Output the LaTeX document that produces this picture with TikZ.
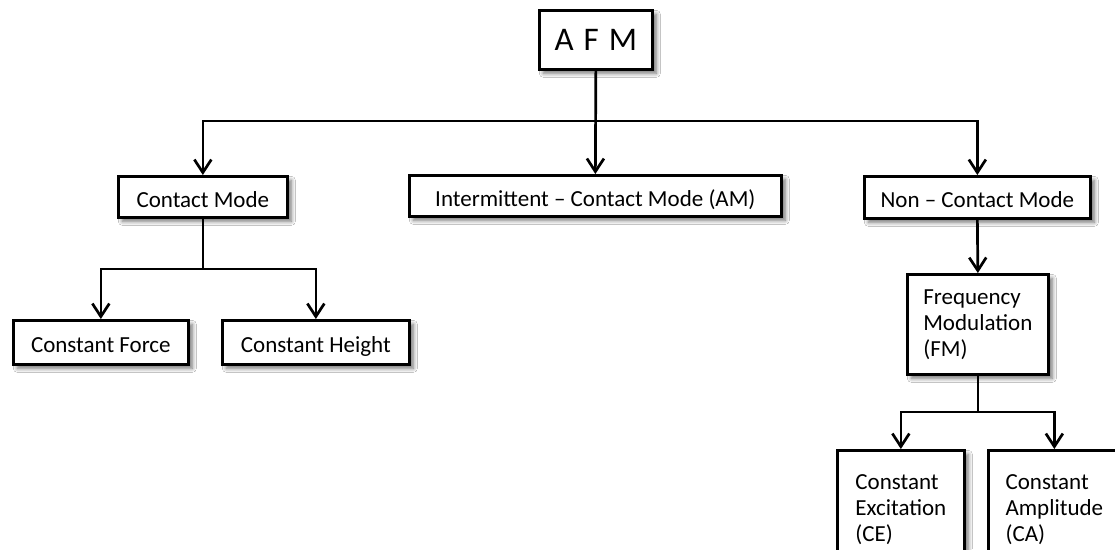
\documentclass[tikz,border=0pt]{standalone}
\usepackage{fontspec}
\setmainfont{Carlito}
\usetikzlibrary{arrows.meta,shadows.blur}
\tikzset{
  box/.style={draw=black, line width=2.7pt, fill=white, anchor=north west,
    inner xsep=0pt, inner ysep=0pt, align=left,
    font=\fontsize{23}{26}\selectfont,
    blur shadow={shadow xshift=4pt, shadow yshift=-4pt, shadow blur steps=8, shadow opacity=55, shadow blur radius=4pt}},
  oneline/.style={text height=24pt, text depth=3pt},
  conn/.style={line width=2.7pt, draw=black},
  arr/.style={conn, -{Straight Barb[length=13pt,width=17pt,line width=2.7pt]}},
}
\begin{document}
\begin{tikzpicture}[x=1pt,y=-1pt]
\clip (0,0) rectangle (1115,549);
\fill[white] (0,0) rectangle (1115,549);
% nodes
\node[box, align=center, minimum width=113pt, minimum height=59pt, font=\fontsize{33}{36}\selectfont] (afm) at (538,9) {A\hspace{10pt}F\hspace{10pt}M};
\node[box, oneline, minimum width=169pt, minimum height=41pt] (cm) at (117,175) {Contact Mode};
\node[box, oneline, minimum width=372pt, minimum height=41pt] (im) at (408,174) {Intermittent – Contact Mode (AM)};
\node[box, oneline, minimum width=226pt, minimum height=42pt] (nc) at (863,175) {Non – Contact Mode};
\node[box, oneline, minimum width=175pt, minimum height=44pt] (cf) at (12,319) {Constant Force};
\node[box, oneline, minimum width=187pt, minimum height=44pt] (ch) at (221,319) {Constant Height};
\node[box, minimum width=141pt, minimum height=100pt] (fm) at (906,273) {Frequency\\Modulation\\(FM)};
\node[box, minimum width=127pt, minimum height=118pt] (ce) at (836,449) {Constant\\Excitation\\(CE)};
\node[box, minimum width=132pt, minimum height=118pt] (ca) at (987,449) {Constant\\Amplitude\\(CA)};
% bus coordinates
\coordinate (bus1) at (0,121);
\coordinate (bus2) at (0,269);
\coordinate (bus3) at (0,412);
% connectors
\draw[arr] (afm.south) -- (im.north);
\draw[arr] (afm.south |- bus1) -| (cm.north);
\draw[arr] (afm.south |- bus1) -| (nc.north);
\draw[conn] (cm.south) -- (cm.south |- bus2);
\draw[arr] (cm.south |- bus2) -| (cf.north);
\draw[arr] (cm.south |- bus2) -| (ch.north);
\draw[arr] (nc.south) -- (fm.north);
\draw[conn] (fm.south) -- (fm.south |- bus3);
\draw[arr] (fm.south |- bus3) -| (ce.north);
\draw[arr] (fm.south |- bus3) -| (ca.north);
\end{tikzpicture}
\end{document}
